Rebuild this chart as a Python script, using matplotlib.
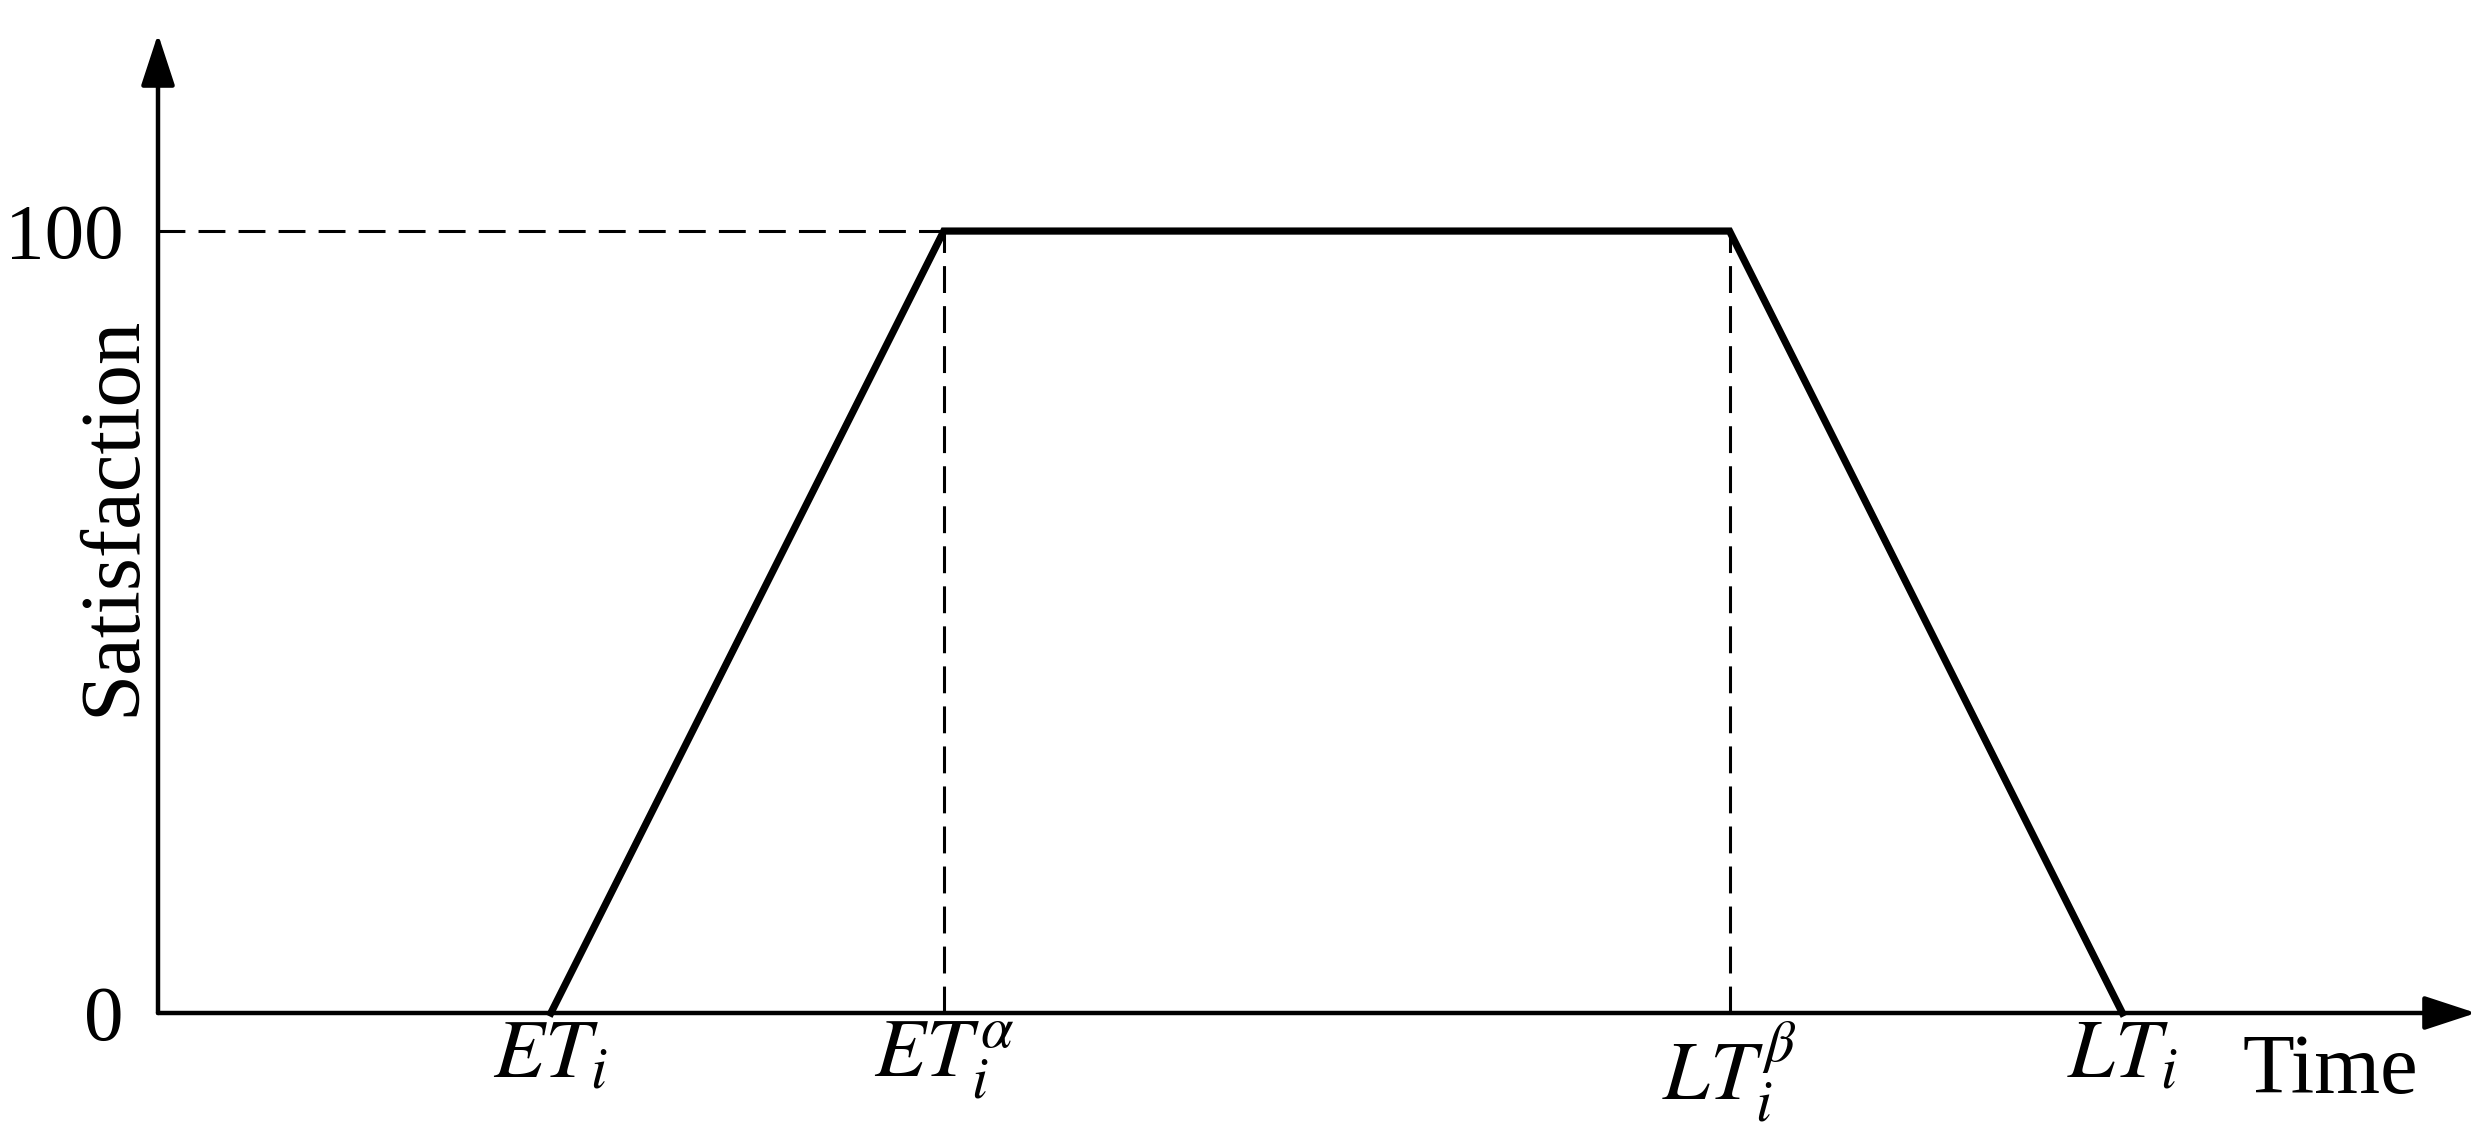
import matplotlib
matplotlib.use("Agg")
import matplotlib.pyplot as plt

plt.rcParams['font.family'] = ['Liberation Serif', 'DejaVu Serif']
plt.rcParams['mathtext.fontset'] = 'stix'

# trapezoid satisfaction function
time_pts = [1, 2, 4, 5]
satisfaction = [0, 100, 100, 0]
tick_labels = [r'$ET_i$', r'$ET_i^{\alpha}$', r'$LT_i^{\beta}$', r'$LT_i$']
y_ticks = [0, 100]

x_end = 5.9
y_end = 125.2

W, H = 2492, 1135
fig = plt.figure(figsize=(W / 100, H / 100), dpi=100)
ax = fig.add_axes([158 / W, (H - 1013) / H, 2318 / W, 979 / H])
ax.set_xlim(0, x_end)
ax.set_ylim(0, y_end)

for s in ax.spines.values():
    s.set_visible(False)

# axes with arrows
arrow = "-|>,head_length=32,head_width=10.5"
ax.annotate('', xy=(x_end, 0), xytext=(0, 0),
            arrowprops=dict(arrowstyle=arrow, lw=3.2, color='black',
                            mutation_scale=1, shrinkA=0, shrinkB=0),
            annotation_clip=False)
ax.annotate('', xy=(0, y_end), xytext=(0, 0),
            arrowprops=dict(arrowstyle=arrow, lw=3.2, color='black',
                            mutation_scale=1, shrinkA=0, shrinkB=0),
            annotation_clip=False)

# guide lines
dash = (8.8, 4.3)
ax.plot([0, time_pts[1]], [satisfaction[1], satisfaction[1]], color='black',
        lw=2.2, dashes=dash, clip_on=False)
ax.plot([time_pts[1], time_pts[1]], [0, satisfaction[1]], color='black',
        lw=2.2, dashes=dash, clip_on=False)
ax.plot([time_pts[2], time_pts[2]], [0, satisfaction[2]], color='black',
        lw=2.2, dashes=dash, clip_on=False)

ax.plot(time_pts, satisfaction, color='black', lw=5.2, solid_joinstyle='miter',
        clip_on=False)

ax.set_xticks(time_pts)
ax.set_xticklabels(tick_labels, fontsize=60)
ax.set_yticks(y_ticks)
ax.set_yticklabels([str(v) for v in y_ticks], fontsize=57)
ax.tick_params(axis='x', length=0, pad=5)
ax.tick_params(axis='y', length=0, pad=25)

ax.set_ylabel('Satisfaction', fontsize=61)
ax.yaxis.set_label_coords(-0.0023, 0.508)

ax.text(5.53, -10.2, 'Time', fontsize=61, ha='center', va='baseline')

fig.savefig('out.png', dpi=100)
